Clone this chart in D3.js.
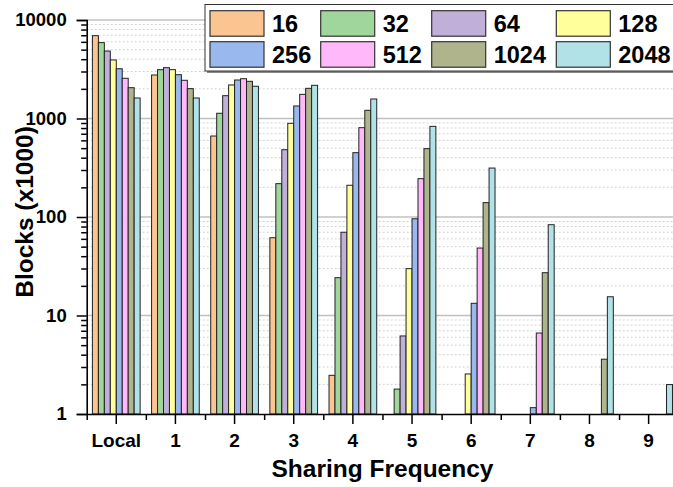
<!DOCTYPE html>
<html>
<head>
<meta charset="utf-8">
<script src="https://cdn.jsdelivr.net/npm/d3@7"></script>
<style>
  html, body { margin: 0; padding: 0; background: #fff; overflow: hidden; }
  svg { display: block; }
  text { font-family: Arial, "Liberation Sans", sans-serif; font-weight: bold; fill: #000; }
</style>
</head>
<body>
<script>
// ---- data ----
const categories = ["Local", "1", "2", "3", "4", "5", "6", "7", "8", "9"];
const seriesNames = ["16", "32", "64", "128", "256", "512", "1024", "2048"];
const seriesColors = ["#fac591", "#a0d69c", "#c0b0d8", "#ffff9c", "#99b8ee", "#ffb8f9", "#b0b48c", "#b1e2e8"];
const s16   = [6930, 2765, 664, 61.6, 2.47, null, null, null, null, null];
const s32   = [5890, 3130, 1130, 218, 24.2, 1.79, null, null, null, null];
const s64   = [4840, 3280, 1705, 482, 70, 6.2, null, null, null, null];
const s128  = [3930, 3130, 2190, 893, 210, 29.9, 2.55, null, null, null];
const s256  = [3200, 2785, 2460, 1340, 450, 96, 13.3, 1.16, null, null];
const s512  = [2560, 2443, 2535, 1758, 807, 245, 48.4, 6.64, null, null];
const s1024 = [2055, 2010, 2385, 2025, 1211, 494, 140, 27.2, 3.6, null];
const s2048 = [1615, 1615, 2125, 2172, 1578, 832, 314, 83.5, 15.5, 1.99];
const seriesValues = [s16, s32, s64, s128, s256, s512, s1024, s2048];
const yTickValues = [1, 10, 100, 1000, 10000];
const xTitle = "Sharing Frequency";
const yTitle = "Blocks (x1000)";

// ---- layout ----
const W = 673, H = 487;
const plotLeft = 86.7, plotRight = 678.2, plotTop = 20, plotBottom = 414;

const svg = d3.select("body").append("svg").attr("width", W).attr("height", H);

const x0 = d3.scaleBand().domain(categories).range([plotLeft, plotRight]).padding(0);
const x1 = d3.scaleBand().domain(seriesNames).range([0, x0.bandwidth()]).paddingInner(0).paddingOuter(0.96);
const xl = d3.scaleLinear().domain([-0.5, categories.length - 0.5]).range([plotLeft, plotRight]);
const y = d3.scaleLog().domain([1, 10000]).range([plotBottom, plotTop]);

// minor values
const minorVals = [];
for (let d = 1; d < 10000; d *= 10) for (let k = 2; k <= 9; k++) minorVals.push(d * k);

// gridlines
const grid = svg.append("g");
grid.selectAll("line.minor").data(minorVals).join("line")
  .attr("x1", plotLeft).attr("x2", W)
  .attr("y1", d => y(d)).attr("y2", d => y(d))
  .attr("stroke", "#d2d2d2").attr("stroke-width", 1).attr("stroke-dasharray", "2,2");
grid.selectAll("line.major").data(yTickValues.slice(1)).join("line")
  .attr("x1", plotLeft).attr("x2", W)
  .attr("y1", d => y(d)).attr("y2", d => y(d))
  .attr("stroke", "#c0c0c0").attr("stroke-width", 1.5);

// bars
const flat = [];
categories.forEach((c, ci) => {
  seriesNames.forEach((s, si) => {
    const v = seriesValues[si][ci];
    if (v != null && v > 1) flat.push({ c, s, si, v });
  });
});
svg.append("g").selectAll("rect").data(flat).join("rect")
  .attr("x", d => x0(d.c) + x1(d.s))
  .attr("y", d => y(d.v))
  .attr("width", x1.bandwidth())
  .attr("height", d => y(1) - y(d.v))
  .attr("fill", d => seriesColors[d.si])
  .attr("stroke", "#222").attr("stroke-width", 1);

// axes
const yAxis = svg.append("g").attr("transform", `translate(${plotLeft},0)`)
  .call(d3.axisLeft(y).tickValues(yTickValues).tickFormat(d3.format("d")).tickSize(10).tickPadding(10));
const yMinor = svg.append("g").attr("transform", `translate(${plotLeft},0)`)
  .call(d3.axisLeft(y).tickValues(minorVals).tickFormat("").tickSize(5.5));
yMinor.select(".domain").remove();

const xAxis = svg.append("g").attr("transform", `translate(0,${plotBottom})`)
  .call(d3.axisBottom(x0).tickSize(10).tickPadding(9.5).tickSizeOuter(0));
const xMinor = svg.append("g").attr("transform", `translate(0,${plotBottom})`)
  .call(d3.axisBottom(xl).tickValues(d3.range(-0.5, categories.length, 1)).tickFormat("").tickSize(6));
xMinor.select(".domain").remove();

svg.selectAll(".domain").attr("stroke", "#000").attr("stroke-width", 1.6);
svg.selectAll(".tick line").attr("stroke", "#000").attr("stroke-width", 1.5);
yAxis.selectAll("text").style("font-size", "18.5px").style("font-weight", "bold").style("font-family", "Arial, 'Liberation Sans', sans-serif").attr("fill", "#000");
xAxis.selectAll("text").style("font-size", "19px").style("font-weight", "bold").style("font-family", "Arial, 'Liberation Sans', sans-serif").attr("fill", "#000");

// titles
svg.append("text").attr("x", 382.5).attr("y", 476.5).attr("text-anchor", "middle")
  .style("font-size", "24.5px").text(xTitle);
svg.append("text").attr("transform", "translate(33,212) rotate(-90)").attr("text-anchor", "middle")
  .style("font-size", "24.5px").text(yTitle);

// legend
const lg = svg.append("g");
lg.append("rect").attr("x", 207).attr("y", 6.5).attr("width", 480).attr("height", 66.5).attr("fill", "#888");
lg.append("rect").attr("x", 205).attr("y", 4.5).attr("width", 480).attr("height", 66.5)
  .attr("fill", "#fff").attr("stroke", "#333").attr("stroke-width", 1);
const colX = [210, 320.7, 431.7, 556.3];
const rowY = [10.7, 41.7];
const rowBase = [31.7, 63.3];
const items = lg.selectAll("g.item").data(seriesNames).join("g").attr("class", "item");
items.append("rect")
  .attr("x", (d, i) => colX[i % 4]).attr("y", (d, i) => rowY[Math.floor(i / 4)])
  .attr("width", 54).attr("height", 25.5)
  .attr("fill", (d, i) => seriesColors[i]).attr("stroke", "#333").attr("stroke-width", 1.2);
items.append("text")
  .attr("x", (d, i) => colX[i % 4] + 62).attr("y", (d, i) => rowBase[Math.floor(i / 4)])
  .style("font-size", "23.5px").text(d => d);
</script>
</body>
</html>
